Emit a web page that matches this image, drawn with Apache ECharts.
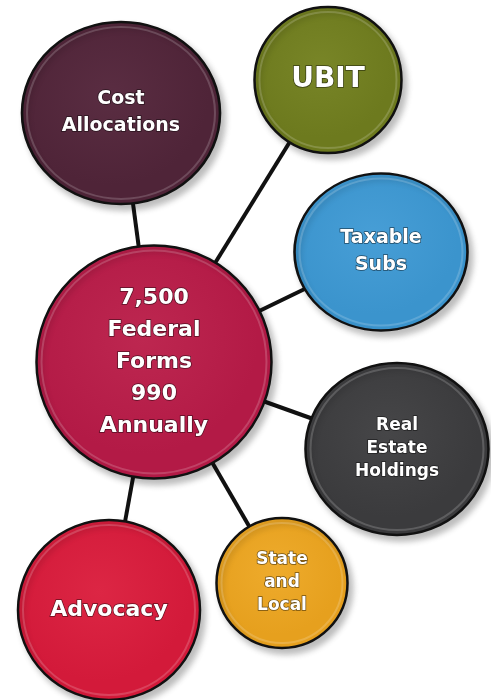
<!DOCTYPE html>
<html>
<head>
<meta charset="utf-8">
<script src="https://cdn.jsdelivr.net/npm/echarts@6/dist/echarts.min.js"></script>
<style>
html,body{margin:0;padding:0;background:#fff;}
#c{width:491px;height:700px;}
</style>
</head>
<body>
<div id="c"></div>
<script>
// Node labels
const labels = [
  "7,500\nFederal\nForms\n990\nAnnually",
  "Cost\nAllocations",
  "UBIT",
  "Taxable\nSubs",
  "Real\nEstate\nHoldings",
  "State\nand\nLocal",
  "Advocacy"
];
// Node centres (diagram units: x 0-491, y 0-700, top-down)
const nodeX = [154, 121, 328, 381, 397, 282, 109];
const nodeY = [362, 113, 80, 252, 449, 583, 610];
// Node diameters
const nodeW = [235, 198, 147, 173, 183, 131, 182];
const nodeH = [233, 182, 146, 157, 172, 130, 180];
// Links: hub -> satellites
const linkSource = [0, 0, 0, 0, 0, 0];
const linkTarget = [1, 2, 3, 4, 5, 6];

// Styles
const colors = ["#b31a46", "#4f2438", "#6d7a1e", "#3b94cd", "#3b3b3d", "#e6a01e", "#d31a3a"];
const lights = ["#bd2750", "#5a2d42", "#788527", "#479ed6", "#464648", "#eeab2c", "#dc2644"];
const fontSizes = [22, 19, 28, 19, 17, 17, 22];
const lineHeights = [32, 27, 30, 27, 23, 23, 28];

function grad(i){
  return {
    type: 'radial', x: 0.45, y: 0.4, r: 0.7,
    colorStops: [
      {offset: 0, color: lights[i]},
      {offset: 0.7, color: colors[i]},
      {offset: 1, color: colors[i]}
    ]
  };
}

const nodes = labels.map((l, i) => ({
  name: 'n' + i,
  value: [nodeX[i], nodeY[i]],
  symbolSize: [nodeW[i], nodeH[i]],
  itemStyle: {
    color: grad(i),
    borderColor: '#111',
    borderWidth: 2.5,
    shadowColor: 'rgba(0,0,0,0.25)',
    shadowBlur: 6,
    shadowOffsetX: 4,
    shadowOffsetY: 5
  },
  label: {
    show: true,
    formatter: l,
    color: '#fff',
    fontFamily: 'DejaVu Sans',
    fontWeight: 'bold',
    fontSize: fontSizes[i],
    lineHeight: lineHeights[i],
    align: 'center',
    verticalAlign: 'middle',
    textBorderColor: 'rgba(0,0,0,0.55)',
    textBorderWidth: 1.5
  }
}));

const links = linkSource.map((s, k) => ({source: 'n' + s, target: 'n' + linkTarget[k]}));

const rims = labels.map((l, i) => ({
  value: [nodeX[i], nodeY[i]],
  symbolSize: [nodeW[i] - 10, nodeH[i] - 10]
}));

const chart = echarts.init(document.getElementById('c'), null, {renderer: 'canvas'});
chart.setOption({
  animation: false,
  backgroundColor: '#ffffff',
  grid: {left: 0, right: 0, top: 0, bottom: 0},
  xAxis: {type: 'value', min: 0, max: 491, show: false},
  yAxis: {type: 'value', min: 0, max: 700, inverse: true, show: false},
  series: [
    {
      type: 'graph',
      coordinateSystem: 'cartesian2d',
      symbol: 'circle',
      data: nodes,
      links: links,
      lineStyle: {color: '#111', width: 4, opacity: 1, curveness: 0},
      emphasis: {disabled: true},
      z: 2
    },
    {
      type: 'scatter',
      symbol: 'circle',
      data: rims,
      silent: true,
      itemStyle: {
        color: 'rgba(0,0,0,0)',
        borderColor: 'rgba(255,255,255,0.22)',
        borderWidth: 2
      },
      z: 3
    }
  ]
});
</script>
</body>
</html>
